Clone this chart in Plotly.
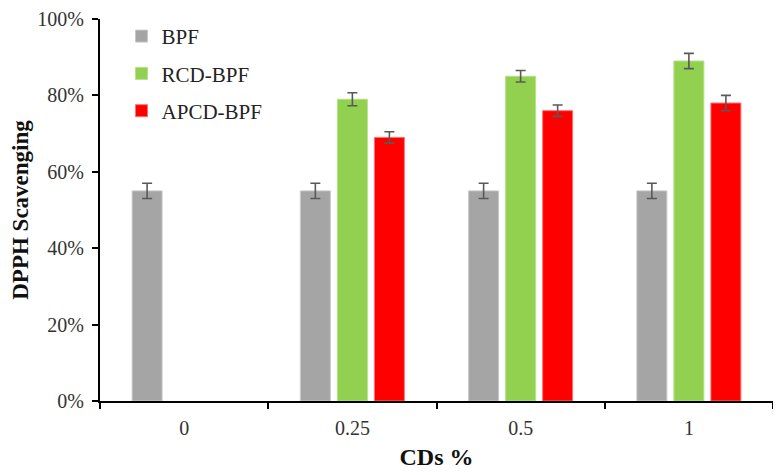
import plotly.graph_objects as go

categories = ["0", "0.25", "0.5", "1"]
bpf = [55, 55, 55, 55]
bpf_err = [2, 2, 2, 2]
rcd = [None, 79, 85, 89]
rcd_err = [0, 1.7, 1.5, 2]
apcd = [None, 69, 76, 78]
apcd_err = [0, 1.5, 1.5, 2]

font_family = "Liberation Serif, Times New Roman, serif"
err_color = "#595959"

fig = go.Figure()
series = [
    ("BPF", bpf, bpf_err, "#A5A5A5", "#C8C8C8"),
    ("RCD-BPF", rcd, rcd_err, "#92D050", "#B5E08A"),
    ("APCD-BPF", apcd, apcd_err, "#FF0000", "#FF7070"),
]
for i, (name, vals, errs, col, edge) in enumerate(series):
    fig.add_trace(go.Bar(
        name=name, x=categories, y=vals,
        marker=dict(color=col, line=dict(color=edge, width=1)),
        error_y=dict(type="data", array=errs, visible=True, color=err_color,
                     thickness=1.6, width=5),
        legendgroup=f"g{i}",
    ))

# page body has an 8px margin, so the figure is sized to fit the 781x475 window
fig.update_layout(
    width=773, height=467,
    margin=dict(l=92, r=8, t=11, b=74),
    paper_bgcolor="white", plot_bgcolor="white",
    barmode="group", bargap=0.34, bargroupgap=0.19,
    font=dict(family=font_family, size=20, color="#333333"),
    showlegend=True,
    legend=dict(x=0.032, y=1.008, xanchor="left", yanchor="top",
                font=dict(family=font_family, size=21, color="#222222"),
                tracegroupgap=7, bgcolor="rgba(0,0,0,0)"),
    xaxis=dict(
        title=dict(text="<b>CDs %</b>", font=dict(family=font_family, size=24, color="#111111"), standoff=10),
        showline=True, linecolor="black", linewidth=2,
        ticks="outside", tickson="boundaries", ticklen=6, tickwidth=2, tickcolor="black",
        tickfont=dict(family=font_family, size=20, color="#333333"),
        ticklabelstandoff=8,
        showgrid=False, automargin=False,
    ),
    yaxis=dict(
        title=dict(text="<b>DPPH Scavenging</b>", font=dict(family=font_family, size=23, color="#111111"), standoff=10),
        range=[0, 100], dtick=20, ticksuffix="%",
        showline=True, linecolor="black", linewidth=2,
        ticks="outside", ticklen=6, tickwidth=2, tickcolor="black",
        tickfont=dict(family=font_family, size=20, color="#333333"),
        ticklabelstandoff=4,
        showgrid=False, zeroline=False, automargin=False,
    ),
)

fig.write_html("out.html")
